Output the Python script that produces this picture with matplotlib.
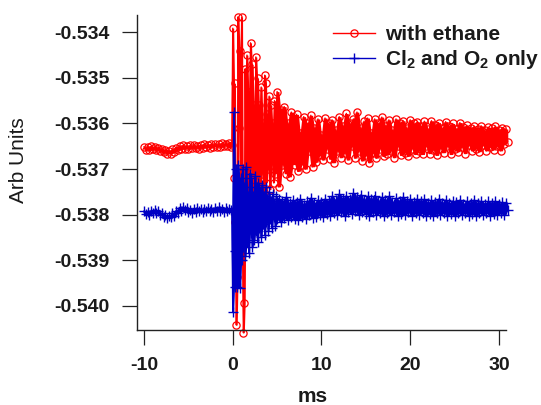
import matplotlib
matplotlib.use("Agg")
import matplotlib.pyplot as plt
import numpy as np
import pandas as pd

plt.rcParams["font.family"] = ["Liberation Sans", "DejaVu Sans"]
plt.rcParams["axes.unicode_minus"] = False
plt.rcParams["mathtext.fontset"] = "custom"
plt.rcParams["mathtext.rm"] = "Liberation Sans:bold"
plt.rcParams["mathtext.bf"] = "Liberation Sans:bold"
plt.rcParams["mathtext.it"] = "Liberation Sans:bold"

# --- sample times (ms) ---
t_pre = [-10.0, -9.8, -9.6, -9.4, -9.2, -9.0, -8.8, -8.6, -8.4, -8.2,
         -8.0, -7.8, -7.6, -7.4, -7.2, -7.0, -6.8, -6.6, -6.4, -6.2,
         -6.0, -5.8, -5.6, -5.4, -5.2, -5.0, -4.8, -4.6, -4.4, -4.2,
         -4.0, -3.8, -3.6, -3.4, -3.2, -3.0, -2.8, -2.6, -2.4, -2.2,
         -2.0, -1.8, -1.6, -1.4, -1.2, -1.0, -0.8, -0.6, -0.4]
t_ring = [-0.2, -0.1, 0.0, 0.1, 0.2, 0.3, 0.4, 0.5, 0.6, 0.7, 0.8, 0.9, 1.0, 1.1, 1.2,
          1.3, 1.4, 1.5, 1.6, 1.7, 1.8, 1.9, 2.0, 2.1, 2.2, 2.3, 2.4, 2.5, 2.6, 2.7,
          2.8, 2.9, 3.0, 3.1, 3.2, 3.3, 3.4, 3.5, 3.6, 3.7, 3.8, 3.9, 4.0, 4.1, 4.2,
          4.3, 4.4, 4.5, 4.6, 4.7, 4.8, 4.9, 5.0]
t_tail = [5.2, 5.4, 5.6, 5.8, 6.0, 6.2, 6.4, 6.6, 6.8, 7.0,
          7.2, 7.4, 7.6, 7.8, 8.0, 8.2, 8.4, 8.6, 8.8, 9.0,
          9.2, 9.4, 9.6, 9.8, 10.0, 10.2, 10.4, 10.6, 10.8, 11.0,
          11.2, 11.4, 11.6, 11.8, 12.0, 12.2, 12.4, 12.6, 12.8, 13.0,
          13.2, 13.4, 13.6, 13.8, 14.0, 14.2, 14.4, 14.6, 14.8, 15.0,
          15.2, 15.4, 15.6, 15.8, 16.0, 16.2, 16.4, 16.6, 16.8, 17.0,
          17.2, 17.4, 17.6, 17.8, 18.0, 18.2, 18.4, 18.6, 18.8, 19.0,
          19.2, 19.4, 19.6, 19.8, 20.0, 20.2, 20.4, 20.6, 20.8, 21.0,
          21.2, 21.4, 21.6, 21.8, 22.0, 22.2, 22.4, 22.6, 22.8, 23.0,
          23.2, 23.4, 23.6, 23.8, 24.0, 24.2, 24.4, 24.6, 24.8, 25.0,
          25.2, 25.4, 25.6, 25.8, 26.0, 26.2, 26.4, 26.6, 26.8, 27.0,
          27.2, 27.4, 27.6, 27.8, 28.0, 28.2, 28.4, 28.6, 28.8, 29.0,
          29.2, 29.4, 29.6, 29.8, 30.0, 30.2, 30.4, 30.6, 30.8, 31.0]

# --- signal with ethane ---
ethane_pre = [-0.53651, -0.53658, -0.53652, -0.53659, -0.53650, -0.53657, -0.53652, -0.53658, -0.53653, -0.53660,
              -0.53656, -0.53663, -0.53658, -0.53666, -0.53660, -0.53666, -0.53657, -0.53662, -0.53653, -0.53658,
              -0.53650, -0.53656, -0.53648, -0.53655, -0.53650, -0.53656, -0.53648, -0.53654, -0.53647, -0.53654,
              -0.53649, -0.53655, -0.53647, -0.53653, -0.53645, -0.53652, -0.53647, -0.53653, -0.53645, -0.53651,
              -0.53644, -0.53651, -0.53646, -0.53652, -0.53643, -0.53650, -0.53644, -0.53650, -0.53642]
ethane_ring = [-0.53652, -0.53648, -0.53391, -0.53720, -0.53512, -0.53815, -0.54042,
               -0.53937, -0.53366, -0.53610, -0.53440, -0.53780, -0.53367, -0.53850,
               -0.54059, -0.53994, -0.53480, -0.53720, -0.53450, -0.53765, -0.53530,
               -0.53760, -0.53423, -0.53700, -0.53470, -0.53775, -0.53560, -0.53740,
               -0.53454, -0.53720, -0.53500, -0.53770, -0.53560, -0.53745, -0.53520,
               -0.53710, -0.53600, -0.53750, -0.53494, -0.53512, -0.53730, -0.53580,
               -0.53700, -0.53540, -0.53745, -0.53560, -0.53690, -0.53600, -0.53730,
               -0.53550, -0.53710, -0.53620, -0.53530]
ethane_tail = [-0.53739, -0.53570, -0.53690, -0.53563, -0.53710, -0.53600, -0.53717, -0.53575, -0.53650, -0.53690,
               -0.53580, -0.53705, -0.53620, -0.53690, -0.53585, -0.53700, -0.53600, -0.53660, -0.53582, -0.53695,
               -0.53610, -0.53685, -0.53590, -0.53670, -0.53625, -0.53680, -0.53588, -0.53655, -0.53600, -0.53678,
               -0.53592, -0.53686, -0.53615, -0.53660, -0.53585, -0.53675, -0.53605, -0.53665, -0.53578, -0.53680,
               -0.53600, -0.53650, -0.53590, -0.53676, -0.53575, -0.53660, -0.53610, -0.53682, -0.53595, -0.53670,
               -0.53588, -0.53686, -0.53620, -0.53665, -0.53590, -0.53676, -0.53600, -0.53655, -0.53586, -0.53672,
               -0.53605, -0.53668, -0.53592, -0.53660, -0.53615, -0.53675, -0.53590, -0.53650, -0.53598, -0.53670,
               -0.53594, -0.53664, -0.53610, -0.53672, -0.53592, -0.53655, -0.53600, -0.53668, -0.53596, -0.53660,
               -0.53605, -0.53668, -0.53595, -0.53650, -0.53612, -0.53666, -0.53594, -0.53658, -0.53603, -0.53670,
               -0.53598, -0.53655, -0.53610, -0.53664, -0.53596, -0.53650, -0.53606, -0.53668, -0.53600, -0.53656,
               -0.53612, -0.53662, -0.53598, -0.53652, -0.53608, -0.53666, -0.53604, -0.53648, -0.53610, -0.53660,
               -0.53606, -0.53655, -0.53612, -0.53662, -0.53605, -0.53648, -0.53615, -0.53660, -0.53608, -0.53652,
               -0.53610, -0.53658, -0.53606, -0.53650, -0.53614, -0.53660, -0.53609, -0.53646, -0.53612, -0.53640]

# --- signal with Cl2 and O2 only ---
cl2o2_pre = [-0.53792, -0.53799, -0.53794, -0.53800, -0.53791, -0.53797, -0.53790, -0.53797, -0.53793, -0.53800,
             -0.53797, -0.53805, -0.53801, -0.53808, -0.53802, -0.53806, -0.53797, -0.53802, -0.53791, -0.53797,
             -0.53786, -0.53793, -0.53783, -0.53790, -0.53786, -0.53794, -0.53789, -0.53796, -0.53788, -0.53794,
             -0.53786, -0.53793, -0.53788, -0.53795, -0.53787, -0.53793, -0.53785, -0.53792, -0.53788, -0.53795,
             -0.53786, -0.53792, -0.53784, -0.53791, -0.53787, -0.53794, -0.53786, -0.53793, -0.53788]
cl2o2_ring = [-0.53790, -0.53795, -0.54013, -0.53575, -0.53880, -0.53958, -0.53700,
              -0.53958, -0.53690, -0.53880, -0.53960, -0.53720, -0.53900, -0.53700,
              -0.53870, -0.53740, -0.53890, -0.53695, -0.53860, -0.53760, -0.53885,
              -0.53710, -0.53840, -0.53720, -0.53870, -0.53760, -0.53855, -0.53715,
              -0.53835, -0.53740, -0.53860, -0.53730, -0.53830, -0.53750, -0.53850,
              -0.53735, -0.53820, -0.53760, -0.53845, -0.53740, -0.53815, -0.53765,
              -0.53835, -0.53750, -0.53810, -0.53770, -0.53830, -0.53755, -0.53805,
              -0.53775, -0.53825, -0.53760, -0.53810]
cl2o2_tail = [-0.53765, -0.53815, -0.53770, -0.53808, -0.53762, -0.53812, -0.53775, -0.53805, -0.53768, -0.53810,
              -0.53772, -0.53812, -0.53766, -0.53806, -0.53778, -0.53810, -0.53770, -0.53800, -0.53764, -0.53808,
              -0.53775, -0.53805, -0.53768, -0.53800, -0.53772, -0.53806, -0.53766, -0.53798, -0.53770, -0.53802,
              -0.53760, -0.53796, -0.53768, -0.53800, -0.53755, -0.53794, -0.53765, -0.53802, -0.53758, -0.53795,
              -0.53766, -0.53798, -0.53753, -0.53792, -0.53762, -0.53800, -0.53757, -0.53795, -0.53768, -0.53798,
              -0.53760, -0.53802, -0.53766, -0.53794, -0.53758, -0.53800, -0.53770, -0.53796, -0.53762, -0.53803,
              -0.53768, -0.53797, -0.53760, -0.53800, -0.53772, -0.53795, -0.53764, -0.53802, -0.53770, -0.53798,
              -0.53762, -0.53800, -0.53770, -0.53795, -0.53766, -0.53803, -0.53772, -0.53797, -0.53765, -0.53800,
              -0.53770, -0.53796, -0.53766, -0.53802, -0.53774, -0.53798, -0.53768, -0.53804, -0.53772, -0.53797,
              -0.53766, -0.53800, -0.53774, -0.53796, -0.53768, -0.53802, -0.53775, -0.53798, -0.53770, -0.53803,
              -0.53772, -0.53797, -0.53768, -0.53800, -0.53776, -0.53796, -0.53770, -0.53802, -0.53774, -0.53798,
              -0.53768, -0.53803, -0.53775, -0.53797, -0.53770, -0.53800, -0.53776, -0.53796, -0.53771, -0.53802,
              -0.53774, -0.53798, -0.53770, -0.53801, -0.53776, -0.53797, -0.53772, -0.53800, -0.53775, -0.53790]

x_ticks = [-10, 0, 10, 20, 30]
y_ticks = [-0.534, -0.535, -0.536, -0.537, -0.538, -0.539, -0.540]
series_labels = ["with ethane", r"Cl$_2$ and O$_2$ only"]

t_ms = np.array(t_pre + t_ring + t_tail)
ethane = np.array(ethane_pre + ethane_ring + ethane_tail)
cl2o2 = np.array(cl2o2_pre + cl2o2_ring + cl2o2_tail)


def trace_band(values):
    """Local min/max over neighbouring samples: the area the dense trace sweeps."""
    s = pd.Series(values)
    lo = s.rolling(3, center=True, min_periods=1).min().to_numpy()
    hi = s.rolling(3, center=True, min_periods=1).max().to_numpy()
    return lo, hi


RED = "#ff0000"
BLUE = "#0000c4"

fig = plt.figure(figsize=(5.41, 4.05), dpi=100)
ax = fig.add_axes([136.7 / 541, 1 - 330 / 405, (506 - 136.7) / 541, (330 - 15) / 405])

lo, hi = trace_band(ethane)
ax.fill_between(t_ms, lo, hi, color=RED, lw=0, zorder=1, clip_on=False)
ax.plot(t_ms, ethane, color=RED, lw=1.0, marker="o", ms=5.2, mfc="none",
        mec=RED, mew=0.9, label=series_labels[0], clip_on=False, zorder=2)

lo, hi = trace_band(cl2o2)
ax.fill_between(t_ms, lo, hi, color=BLUE, lw=0, zorder=3, clip_on=False)
ax.plot(t_ms, cl2o2, color=BLUE, lw=1.0, marker="+", ms=7, mec=BLUE,
        mew=1.0, label=series_labels[1], clip_on=False, zorder=4)

ax.set_xlim(-10.83, 30.8)
ax.set_ylim(-0.54053, -0.53362)
ax.set_xticks(x_ticks)
ax.set_yticks(y_ticks)
ax.set_xticklabels([str(v) for v in x_ticks])
ax.set_yticklabels(["%.3f" % v for v in y_ticks])

for side in ("top", "right"):
    ax.spines[side].set_visible(False)
for side in ("left", "bottom"):
    ax.spines[side].set_linewidth(1.0)
    ax.spines[side].set_color("#222222")

ax.tick_params(axis="both", direction="out", length=10.8, width=0.9,
               color="#222222", labelsize=14)
ax.tick_params(axis="x", pad=9)
ax.tick_params(axis="y", pad=9)
for lab in ax.get_xticklabels() + ax.get_yticklabels():
    lab.set_fontweight("bold")
    lab.set_color("#1a1a1a")

fig.text(18 / 541, 1 - 160 / 405, "Arb Units", rotation=90, ha="center",
         va="center", fontsize=15, color="#1a1a1a")
fig.text(313 / 541, 1 - 396 / 405, "ms", ha="center", va="center",
         fontsize=15, fontweight="bold", color="#1a1a1a")

leg = ax.legend(loc="upper left", bbox_to_anchor=(333 / 541, 1 - 25 / 405),
                bbox_transform=fig.transFigure, frameon=False, borderpad=0,
                borderaxespad=0, handlelength=2.0, handletextpad=0.5,
                labelspacing=0.2, numpoints=1,
                prop={"size": 15, "weight": "bold"})
for txt in leg.get_texts():
    txt.set_color("#1a1a1a")

fig.savefig("out.png", dpi=100)
